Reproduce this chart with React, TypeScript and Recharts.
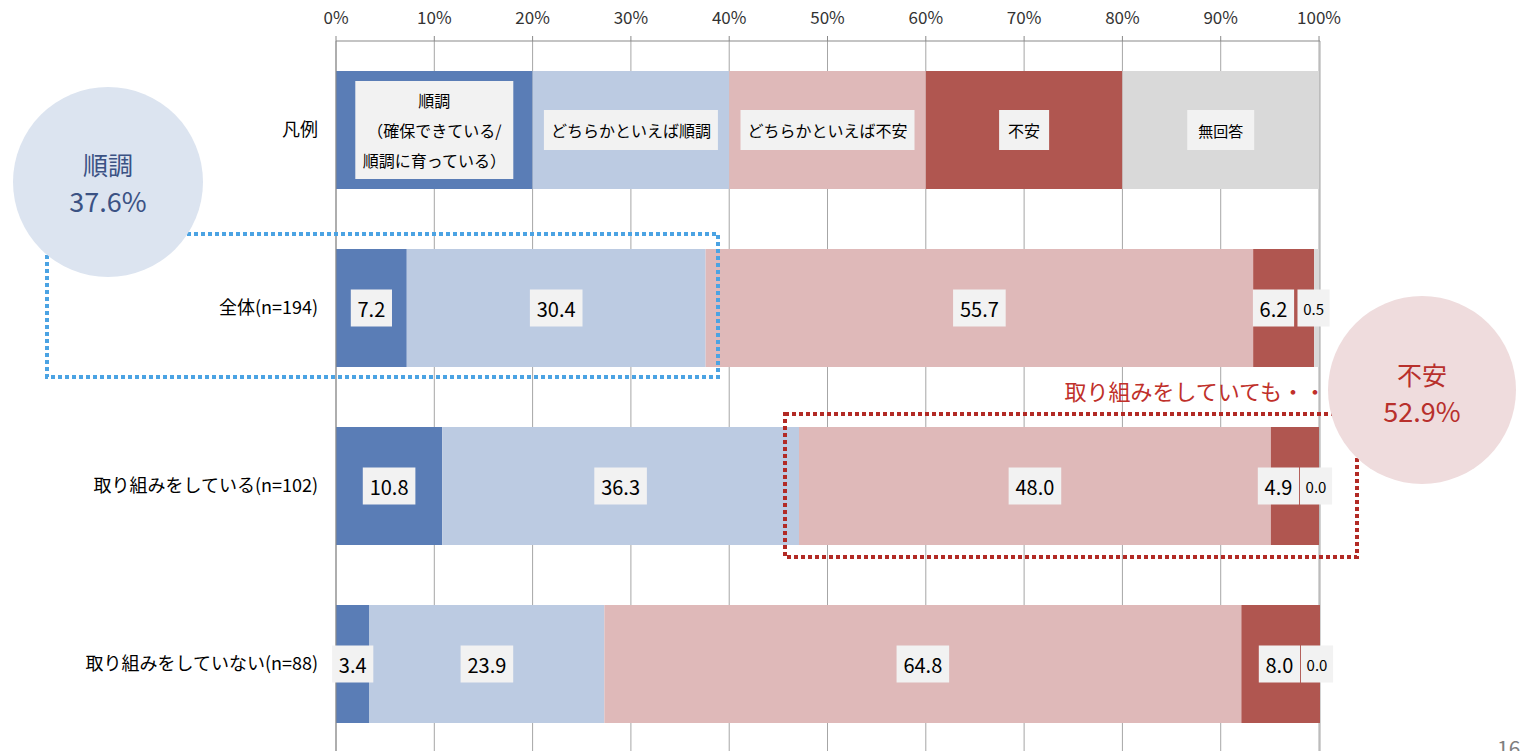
import React from 'react'
import { BarChart, Bar, XAxis, YAxis, CartesianGrid, LabelList } from 'recharts'

const categories = ['凡例', '全体(n=194)', '取り組みをしている(n=102)', '取り組みをしていない(n=88)']
const seriesKeys = ['good', 'ratherGood', 'ratherAnxious', 'anxious', 'noAnswer']
const seriesNames = ['順調（確保できている/順調に育っている）', 'どちらかといえば順調', 'どちらかといえば不安', '不安', '無回答']
// first row is the legend strip (20% each)
const goodValues = [20, 7.2, 10.8, 3.4]
const ratherGoodValues = [20, 30.4, 36.3, 23.9]
const ratherAnxiousValues = [20, 55.7, 48.0, 64.8]
const anxiousValues = [20, 6.2, 4.9, 8.0]
const noAnswerValues = [20, 0.5, 0.0, 0.0]
const xTicks = [0, 10, 20, 30, 40, 50, 60, 70, 80, 90, 100]

const COLORS = ['#5a7db6', '#bccbe2', '#dfb9b9', '#b05650', '#d9d9d9']
const LEGEND_LINES = [
  ['順調', '（確保できている/', '順調に育っている）'],
  ['どちらかといえば順調'],
  ['どちらかといえば不安'],
  ['不安'],
  ['無回答'],
]
const FONT = '"Noto Sans CJK JP", "Noto Sans", sans-serif'

const data = categories.map((name, i) => ({
  name,
  good: goodValues[i],
  ratherGood: ratherGoodValues[i],
  ratherAnxious: ratherAnxiousValues[i],
  anxious: anxiousValues[i],
  noAnswer: noAnswerValues[i],
}))

function textWidth(s: string, fs: number) {
  let w = 0
  for (const ch of s) {
    const c = ch.charCodeAt(0)
    if (c > 0x2e80) w += fs
    else if (ch === '.') w += 0.27 * fs
    else if (ch === '/' || ch === '(' || ch === ')') w += 0.38 * fs
    else w += 0.57 * fs
  }
  return w
}

function ValueBox({ cx, cy, value, small }: { cx: number; cy: number; value: number; small?: boolean }) {
  const txt = value.toFixed(1)
  const fs = small ? 15 : 20
  const bw = textWidth(txt, fs) + (small ? 11 : 13)
  const bh = 37
  return (
    <g>
      <rect x={cx - bw / 2} y={cy - bh / 2} width={bw} height={bh} fill="#f2f2f2" />
      <text x={cx} y={cy} textAnchor="middle" dominantBaseline="central" fontSize={fs}
        fill="#000" fontFamily={FONT}>{txt}</text>
    </g>
  )
}

function makeLabel(si: number) {
  return (props: any) => {
    const vb = props.viewBox ?? props
    const x = Number(props.x ?? vb.x)
    const y = Number(props.y ?? vb.y)
    const width = Number(props.width ?? vb.width)
    const height = Number(props.height ?? vb.height)
    const index = props.index
    const cy = y + height / 2

    if (index === 0) {
      const lines = LEGEND_LINES[si]
      const fs = si === 4 ? 15 : 16
      const lh = 30
      const padX = si === 4 ? 11 : si === 3 ? 9 : 7
      const bw = Math.max(...lines.map((l) => textWidth(l, fs))) + padX * 2
      const bh = lines.length > 1 ? lines.length * lh + 8 : 40
      const cx = x + width / 2
      return (
        <g>
          <rect x={cx - bw / 2} y={cy - bh / 2} width={bw} height={bh} fill="#f2f2f2" />
          {lines.map((l, k) => (
            <text key={k} x={cx} y={cy + (k - (lines.length - 1) / 2) * lh} textAnchor="middle"
              dominantBaseline="central" fontSize={fs} fill="#000" fontFamily={FONT}>{l}</text>
          ))}
        </g>
      )
    }

    const value = Number(props.value)
    const bw = textWidth(value.toFixed(1), 20) + 13
    let cx = x + width / 2
    if (si === 3) {
      cx = Math.min(cx, x + width - 20 - bw / 2)
      // zero-width "無回答" bars draw no label of their own, so place it here at the bar end
      const zero = noAnswerValues[index] === 0
      return (
        <g>
          <ValueBox cx={cx} cy={cy} value={value} />
          {zero && <ValueBox cx={x + width - 3} cy={cy} value={noAnswerValues[index]} small />}
        </g>
      )
    }
    if (si === 4) return <ValueBox cx={x + width / 2 - 3} cy={cy} value={value} small />
    return <ValueBox cx={cx} cy={cy} value={value} />
  }
}

export default function App() {
  return (
    <div style={{ position: 'absolute', left: 0, top: 0, width: 1523, height: 751, overflow: 'hidden', background: '#fff', fontFamily: FONT }}>
      <BarChart width={1523} height={753} data={data} layout="vertical"
        margin={{ top: 11, right: 203, left: 0, bottom: 0 }}>
        <CartesianGrid horizontal={false} stroke="#a6a6a6" />
        <XAxis type="number" orientation="top" domain={[0, 100]} ticks={xTicks} height={30}
          tickFormatter={(v: number) => `${v}%`} tickSize={5} tickMargin={12}
          stroke="#898989" tick={{ fill: '#333', fontSize: 17, fontFamily: FONT }} />
        <YAxis yAxisId="bounds" type="number" domain={[0, 4]} ticks={[0, 1, 2, 3, 4]} width={0}
          axisLine={false} tickSize={5} tickLine={{ stroke: '#898989' }} tick={() => <g />} />
        <YAxis type="category" dataKey="name" width={336} tickLine={false} tickSize={0} tickMargin={18}
          stroke="#898989" tick={{ fill: '#000', fontSize: 18, fontFamily: FONT }} />
        {seriesKeys.map((k, i) => (
          <Bar key={k} dataKey={k} name={seriesNames[i]} stackId="a" fill={COLORS[i]} barSize={118}
            isAnimationActive={false}>
            <LabelList dataKey={k} content={makeLabel(i)} />
          </Bar>
        ))}
      </BarChart>

      <svg width={1523} height={751} style={{ position: 'absolute', left: 0, top: 0, pointerEvents: 'none' }}>
        <rect x={47} y={234} width={671} height={143} fill="none" stroke="#4ba3e3" strokeWidth={4} strokeDasharray="4 3" />
        <rect x={785} y={414} width={572} height={143} fill="none" stroke="#b22a25" strokeWidth={4} strokeDasharray="4 3" />
        <circle cx={108} cy={182} r={95} fill="#dce4f0" />
        <text x={108} y={164} textAnchor="middle" dominantBaseline="central" fontSize={25} fill="#3b5284" fontFamily={FONT}>順調</text>
        <text x={108} y={200} textAnchor="middle" dominantBaseline="central" fontSize={27} fill="#3b5284" fontFamily={FONT}>37.6%</text>
        <circle cx={1422} cy={390} r={94} fill="#efdcdd" />
        <text x={1422} y={374} textAnchor="middle" dominantBaseline="central" fontSize={25} fill="#b8302c" fontFamily={FONT}>不安</text>
        <text x={1422} y={410} textAnchor="middle" dominantBaseline="central" fontSize={27} fill="#b8302c" fontFamily={FONT}>52.9%</text>
        <text x={1326} y={390} textAnchor="end" dominantBaseline="central" fontSize={22} fill="#c0302a" fontFamily={FONT}>取り組みをしていても・・</text>
        <text x={1497} y={756} fontSize={21} fill="#7f7f7f" fontFamily={FONT}>16</text>
      </svg>
    </div>
  )
}
